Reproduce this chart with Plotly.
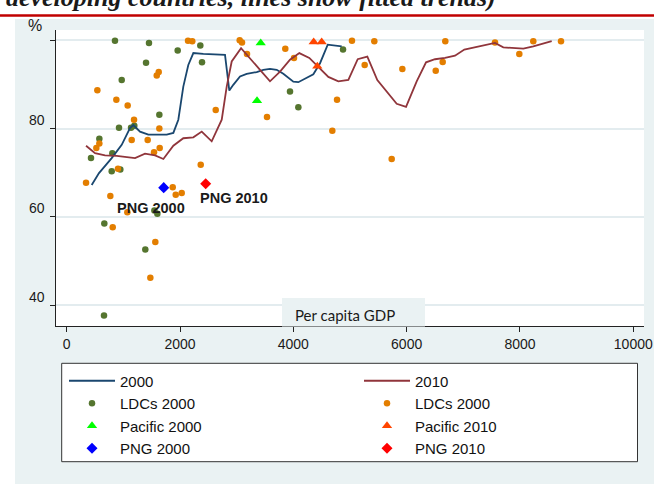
import plotly.graph_objects as go

# ---------------- data ----------------
# fitted trend lines
line2000_x = [441, 570, 794, 971, 1117, 1176, 1294, 1441, 1765, 1882, 1970, 2058, 2146, 2235, 2411,
              2794, 2870, 2940, 3059, 3177, 3353, 3470, 3588, 3706, 3823, 4000, 4088, 4206, 4353,
              4471, 4607, 4854]
line2000_y = [67.2, 69.9, 73.3, 76.3, 80.1, 80.8, 79.3, 78.6, 78.6, 79.0, 82.0, 89.5, 94.4, 97.1, 96.9,
              96.7, 88.6, 89.9, 91.8, 92.4, 92.8, 93.3, 93.5, 93.3, 92.4, 90.6, 90.5, 91.3, 92.3,
              94.8, 99.0, 98.6]

line2010_x = [341, 500, 676, 882, 1206, 1382, 1559, 1706, 1882, 2058, 2235, 2383, 2559, 2736, 2824,
              2912, 3077, 3235, 3412, 3588, 3765, 3941, 4106, 4282, 4423, 4618, 4794, 4971, 5136,
              5306, 5482, 5648, 5824, 5989, 6177, 6342, 6500, 6677, 6853, 7018, 7236, 7559, 7706,
              8059, 8235, 8560]
line2010_y = [76.1, 74.4, 73.9, 73.8, 73.3, 74.3, 73.9, 73.1, 76.1, 77.8, 78.0, 79.3, 77.1, 82.0, 89.5,
              95.2, 98.2, 96.0, 93.3, 90.7, 92.9, 95.6, 97.1, 96.0, 94.1, 91.7, 90.7, 91.0, 95.7,
              96.3, 91.0, 88.4, 85.6, 84.9, 90.7, 95.0, 95.7, 96.0, 96.5, 97.9, 98.5, 99.4, 98.4,
              98.1, 98.6, 99.8]

# LDCs (green, 2000)
ldc2000_x = [852, 1452, 1959, 2358, 2388, 1400, 971, 1635, 923, 1135, 1193, 576, 429, 805, 794, 946,
             4877, 3941, 4088, 664, 1387, 658, 1547, 1600, 1712]
ldc2000_y = [99.9, 99.4, 97.7, 98.8, 95.0, 94.9, 91.0, 83.1, 80.2, 80.2, 80.6, 77.7, 73.3, 74.4, 70.3, 70.7,
             97.9, 88.4, 84.8, 58.5, 52.6, 37.6, 61.4, 60.7, 66.6]

# LDCs (orange, second period)
ldc2010_x = [2141, 2216, 1624, 1589, 541, 876, 1076, 1188, 1635, 1147, 1429, 576, 523, 1641, 1541, 905,
             2365, 341, 770, 1871, 1924, 2030, 2630, 3182, 3053, 3094, 3535, 3858, 4012, 4771, 4688,
             5035, 5429, 6682, 7559, 8235, 8724, 7988, 5259, 5924, 6513, 6636, 5736, 1070, 812,
             1564, 1476]
ldc2010_y = [99.9, 99.8, 92.8, 92.0, 88.7, 86.5, 85.2, 82.0, 80.0, 77.4, 77.4, 76.6, 75.6, 75.6, 74.6, 70.9,
             71.8, 67.7, 64.7, 66.7, 65.0, 65.4, 84.2, 96.9, 100.0, 99.5, 82.6, 98.1, 96.0, 86.5, 79.5,
             99.9, 99.8, 99.8, 99.5, 99.8, 99.8, 96.9, 94.4, 93.5, 93.1, 95.1, 73.1, 61.0, 57.6,
             54.3, 46.2]

pac2000_x = [3424, 3359]
pac2000_y = [99.4, 86.3]
pac2010_x = [4359, 4500, 4423]
pac2010_y = [99.6, 99.6, 94.1]

png2000_x = [1712]
png2000_y = [66.6]
png2010_x = [2453]
png2010_y = [67.5]

x_ticks = [0, 2000, 4000, 6000, 8000, 10000]
x_tick_labels = ["0", "2000", "4000", "6000", "8000", "10000"]
y_ticks = [40, 60, 80, 100]
y_tick_labels = ["40", "60", "80"]

# ---------------- layout helpers ----------------
W, H = 654, 484
ML, MR, MT, MB = 56, 10, 30, 158
PW = W - ML - MR
PH = H - MT - MB


def px(x):
    return (x - ML) / PW


def py(y):
    return (H - MB - y) / PH


BG = "#EAF2F3"
SANS = "Liberation Sans"
NAVY = "#1A476F"
MAROON = "#90353B"
FOREST = "#55752F"
DKORANGE = "#E37E00"

fig = go.Figure()

# scatter markers
fig.add_trace(go.Scatter(x=ldc2000_x, y=ldc2000_y, mode="markers", name="LDCs 2000",
                         marker=dict(color=FOREST, size=6.5, line=dict(width=0)),
                         legend="legend", legendrank=2))
fig.add_trace(go.Scatter(x=ldc2010_x, y=ldc2010_y, mode="markers", name="LDCs 2000",
                         marker=dict(color=DKORANGE, size=6.5, line=dict(width=0)),
                         legend="legend2", legendrank=2))
# lines
fig.add_trace(go.Scatter(x=line2000_x, y=line2000_y, mode="lines", name="2000",
                         line=dict(color=NAVY, width=1.8), legend="legend", legendrank=1))
fig.add_trace(go.Scatter(x=line2010_x, y=line2010_y, mode="lines", name="2010",
                         line=dict(color=MAROON, width=1.8), legend="legend2", legendrank=1))
# triangles
fig.add_trace(go.Scatter(x=pac2000_x, y=pac2000_y, mode="markers", name="Pacific 2000",
                         marker=dict(color="#00FF00", size=9, symbol="triangle-up", line=dict(width=0)),
                         legend="legend", legendrank=3))
fig.add_trace(go.Scatter(x=pac2010_x, y=pac2010_y, mode="markers", name="Pacific 2010",
                         marker=dict(color="#FF4500", size=9, symbol="triangle-up", line=dict(width=0)),
                         legend="legend2", legendrank=3))
# diamonds
fig.add_trace(go.Scatter(x=png2000_x, y=png2000_y, mode="markers", name="PNG 2000",
                         marker=dict(color="#0000FF", size=8.5, symbol="diamond", line=dict(width=0)),
                         legend="legend", legendrank=4))
fig.add_trace(go.Scatter(x=png2010_x, y=png2010_y, mode="markers", name="PNG 2010",
                         marker=dict(color="#FF0000", size=8.5, symbol="diamond", line=dict(width=0)),
                         legend="legend2", legendrank=4))

shapes = [
    # light graph region
    dict(type="rect", xref="paper", yref="paper", x0=px(15), x1=px(660), y0=py(490), y1=py(19),
         fillcolor=BG, line=dict(width=0), layer="below"),
    # white plot region
    dict(type="rect", xref="paper", yref="paper", x0=0, x1=1, y0=0, y1=1,
         fillcolor="white", line=dict(width=0), layer="below"),
    # legend box
    dict(type="rect", xref="paper", yref="paper", x0=px(61.7), x1=px(637.5), y0=py(461.7), y1=py(363.3),
         fillcolor="white", line=dict(color="#333333", width=1), layer="below"),
    # red rule under the header
    dict(type="line", xref="paper", yref="paper", x0=px(-5), x1=px(660), y0=py(15.5), y1=py(15.5),
         line=dict(color="#C00000", width=2.5), layer="above"),
    # "Per capita GDP" box
    dict(type="rect", xref="paper", yref="paper", x0=px(282), x1=px(425), y0=py(326.5), y1=py(298),
         fillcolor=BG, line=dict(width=0), layer="above"),
]

annotations = [
    dict(text="<b><i>developing countries, lines show fitted trends)</i></b>", xref="paper", yref="paper",
         x=px(4), y=py(-2.5), xanchor="left", yanchor="middle", showarrow=False,
         font=dict(family="Liberation Serif", size=26, color="#1A1A1A")),
    dict(text="%", xref="paper", yref="paper", x=px(34.5), y=py(26), xanchor="center", yanchor="middle",
         showarrow=False, font=dict(family=SANS, size=16, color="#1A1A1A")),
    dict(text="Per capita GDP", xref="paper", yref="paper", x=px(293), y=py(315), xanchor="left",
         yanchor="middle", showarrow=False, font=dict(family="Lato", size=15, color="#1A1A1A")),
    dict(text="<b>PNG 2000</b>", xref="x", yref="y", x=png2000_x[0], y=png2000_y[0], xshift=-12.7,
         yshift=-20.3, xanchor="center", yanchor="middle", showarrow=False,
         font=dict(family=SANS, size=14.5, color="#1A1A1A")),
    dict(text="<b>PNG 2010</b>", xref="x", yref="y", x=png2010_x[0], y=png2010_y[0], xshift=28.8,
         yshift=-14.6, xanchor="center", yanchor="middle", showarrow=False,
         font=dict(family=SANS, size=14.5, color="#1A1A1A")),
]
for v, t in zip(y_ticks, y_tick_labels):
    annotations.append(dict(text=t, xref="paper", yref="y", x=0, y=v, xshift=-9, yshift=8.5,
                            xanchor="right", yanchor="middle", showarrow=False,
                            font=dict(family=SANS, size=14, color="#1A1A1A")))

legend_common = dict(xref="container", yref="container", xanchor="left", yanchor="top",
                     bgcolor="rgba(0,0,0,0)", borderwidth=0, itemwidth=46, orientation="v",
                     font=dict(family=SANS, size=15, color="#111111"))

fig.update_layout(
    width=W, height=H,
    margin=dict(l=ML, r=MR, t=MT, b=MB, pad=0, autoexpand=False),
    paper_bgcolor="white", plot_bgcolor="white",
    showlegend=True,
    legend=dict(x=64 / W, y=1 - 364.5 / H, **legend_common),
    legend2=dict(x=359 / W, y=1 - 364.5 / H, **legend_common),
    shapes=shapes,
    annotations=annotations,
    xaxis=dict(range=[-189, 10189], tickvals=x_ticks, ticktext=x_tick_labels, ticks="outside",
               ticklen=5, tickwidth=1.2,
               tickcolor="#222222", showline=True, linecolor="#222222", linewidth=1.3,
               showgrid=False, zeroline=False, tickangle=0, automargin=False,
               tickfont=dict(family=SANS, size=14, color="#1A1A1A")),
    yaxis=dict(range=[35.24, 102.33], tickvals=y_ticks, showticklabels=False, ticks="outside",
               ticklen=5, tickwidth=1.2, tickcolor="#222222", showline=True, linecolor="#222222",
               linewidth=1.3, showgrid=True, gridcolor="#E3ECEF", gridwidth=1.5, zeroline=False,
               automargin=False),
)

fig.write_html("out.html", config={"displayModeBar": False},
               post_script="document.body.style.margin='0';document.body.style.padding='0';"
                           "document.body.style.overflow='hidden';")
